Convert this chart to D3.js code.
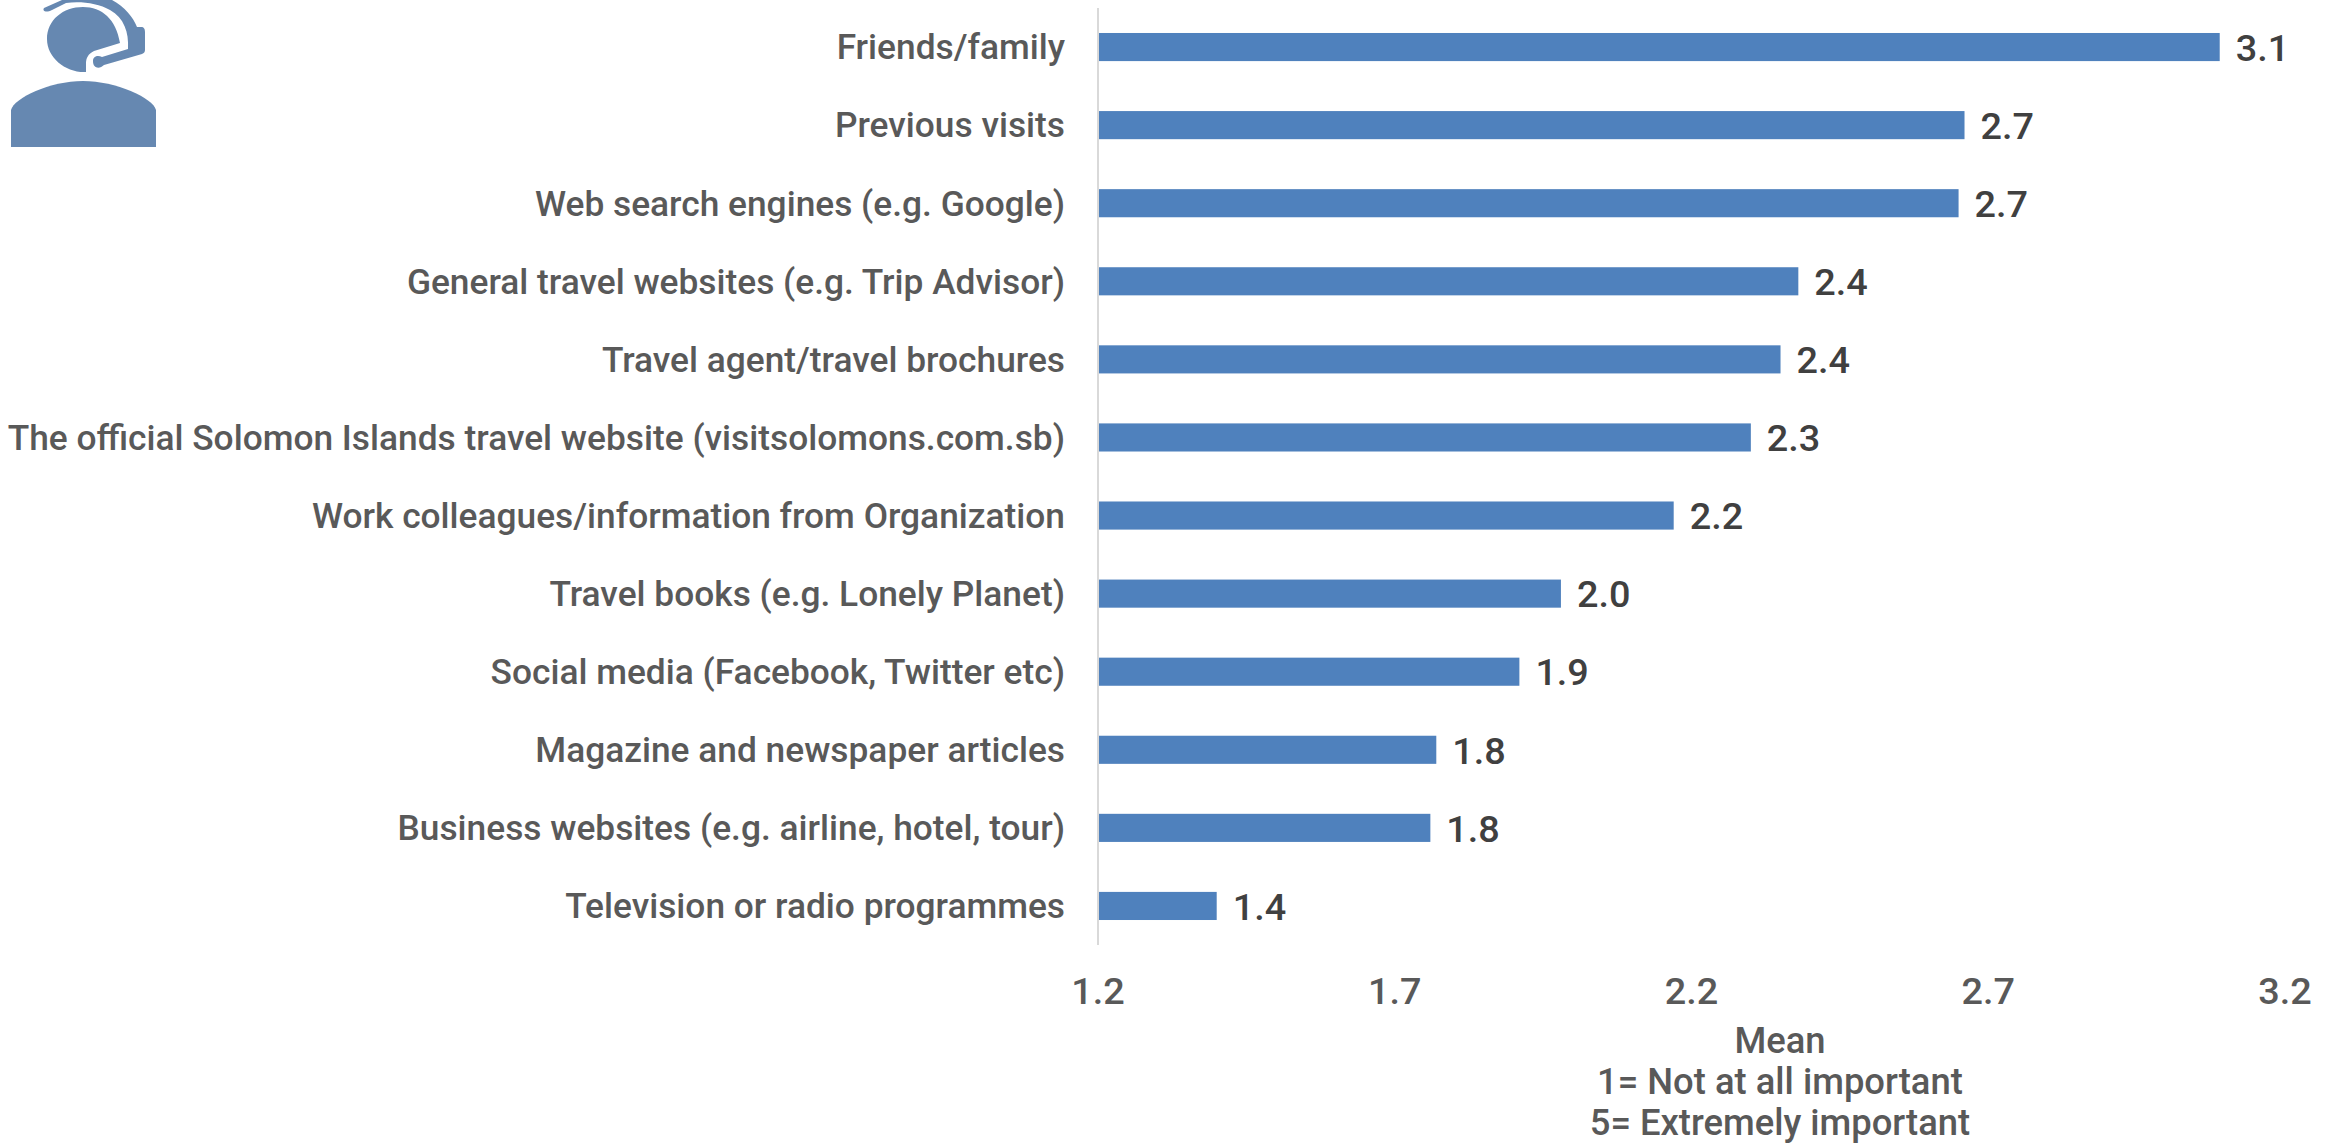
<!DOCTYPE html>
<html><head><meta charset="utf-8"><style>html,body{margin:0;padding:0;background:#fff;overflow:hidden}svg{display:block}text{font-family:"Roboto",sans-serif;font-weight:500}</style>
<script src="https://cdn.jsdelivr.net/npm/d3@7/dist/d3.min.js"></script></head><body><script>
const categories=["Friends/family","Previous visits","Web search engines (e.g. Google)","General travel websites (e.g. Trip Advisor)","Travel agent/travel brochures","The official Solomon Islands travel website (visitsolomons.com.sb)","Work colleagues/information from Organization","Travel books (e.g. Lonely Planet)","Social media (Facebook, Twitter etc)","Magazine and newspaper articles","Business websites (e.g. airline, hotel, tour)","Television or radio programmes"];
const values=[3.09,2.66,2.65,2.38,2.35,2.30,2.17,1.98,1.91,1.77,1.76,1.40];
const valueLabels=["3.1","2.7","2.7","2.4","2.4","2.3","2.2","2.0","1.9","1.8","1.8","1.4"];
const ticks=[1.2,1.7,2.2,2.7,3.2];
const axisTitle=["Mean","1= Not at all important","5= Extremely important"];
const W=2338,H=1144;
const svg=d3.select("body").append("svg").attr("width",W).attr("height",H);
const x=d3.scaleLinear().domain([1.2,3.2]).range([1098,2285]);
const y=d3.scaleBand().domain(categories).range([8,945]).paddingInner(0.64).paddingOuter(0.32);
svg.append("g").selectAll("rect").data(values).join("rect")
 .attr("x",x(1.2)).attr("y",(d,i)=>y(categories[i])).attr("width",d=>x(d)-x(1.2)).attr("height",y.bandwidth()).attr("fill","#4f81bd");
svg.append("line").attr("x1",x(1.2)).attr("x2",x(1.2)).attr("y1",8).attr("y2",945).attr("stroke","#d9d9d9").attr("stroke-width",2);
const mid=c=>y(c)+y.bandwidth()/2;
svg.append("g").selectAll("text").data(categories).join("text")
 .attr("x",1065).attr("y",d=>mid(d)).attr("dy","0.35em").attr("text-anchor","end").attr("font-size",35.3).attr("fill","#595959").text(d=>d);
svg.append("g").selectAll("text").data(values).join("text")
 .attr("x",d=>x(d)+16).attr("y",(d,i)=>mid(categories[i])+0.5).attr("dy","0.35em").attr("font-size",37.8).attr("fill","#404040").text((d,i)=>valueLabels[i]);
svg.append("g").selectAll("text").data(ticks).join("text")
 .attr("x",d=>x(d)).attr("y",991).attr("dy","0.35em").attr("text-anchor","middle").attr("font-size",37.8).attr("fill","#595959").text(d=>d.toFixed(1));
svg.append("g").selectAll("text").data(axisTitle).join("text")
 .attr("x",1780).attr("y",(d,i)=>1040+i*41).attr("dy","0.35em").attr("text-anchor","middle").attr("font-size",36.4).attr("fill","#595959").text(d=>d);
const icon=svg.append("g").attr("fill","#6688b1");
icon.append("path").attr("d","M11 147V110C14 98 50 81 83 81C116 81 153 98 156 110V147Z");
icon.append("path").attr("d","M86 72C66 73 47 58 47 39C47 20 63 7 83 7C102 7 116 19 120 43L94 51C88 54 86 58 86 64Z");
icon.append("path").attr("d","M44 8L62 0H112C125 7 133 17 137 27H141C144 27 145 29 145 32V50C145 52 144 53 142 54L104 65C100 69 93 69 93 61C93 56 98 55 102 57L128 49C129 32 124 18 110 10C98 3 80 1 66 3L52 10C46 13 42 11 44 8Z");
</script></body></html>
